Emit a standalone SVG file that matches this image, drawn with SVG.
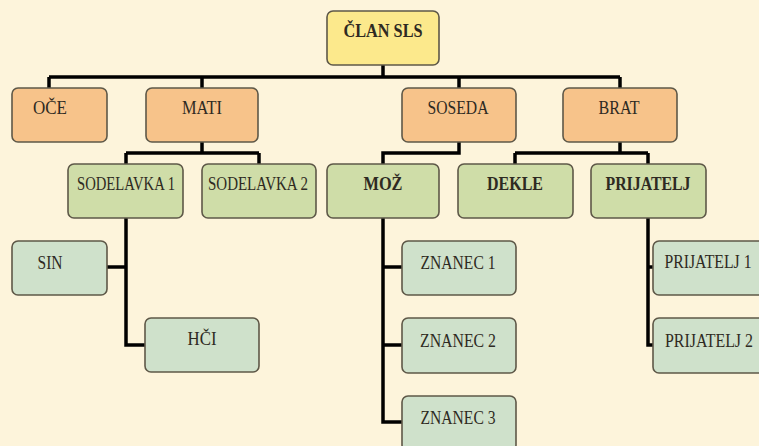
<svg xmlns="http://www.w3.org/2000/svg" width="759" height="446" viewBox="0 0 759 446">
<style>
.b{stroke:#5e5848;stroke-width:1.6}
.r{fill:#fce98c}
.o{fill:#f7c38a}
.g{fill:#cfdda8}
.l{fill:#cfe1cb}
.t{font-family:"Liberation Serif","Times New Roman",serif;font-size:18px;fill:#2e2a22;text-anchor:middle}
.bd{font-weight:bold}
.c{fill:none;stroke:#000;stroke-width:3.5;stroke-linejoin:miter}
</style>
<rect width="759" height="446" fill="#fdf4db"/>
<g id="connectors">
<path class="c" d="M383 65V77M49 77H620M49 77V88M202 77V88M459 77V88M620 77V88"/>
<path class="c" d="M202 142V153M126 153H259M126 153V164M259 153V164"/>
<path class="c" d="M459 142V153H383V164"/>
<path class="c" d="M620 142V153M515 153H648M515 153V164M648 153V164"/>
<path class="c" d="M126 218V345H145M107 267H126"/>
<path class="c" d="M383 218V422H402M383 267H402M383 345H402"/>
<path class="c" d="M648 218V345H653M648 267H653"/>
</g>
<g id="n-clan"><rect class="b r" x="327" y="11" width="112" height="54" rx="6"/><text class="t bd" x="383" y="37" textLength="79" lengthAdjust="spacingAndGlyphs">ČLAN SLS</text></g>
<g id="n-oce"><rect class="b o" x="12" y="88" width="95" height="54" rx="6"/><text class="t" x="50" y="114" textLength="34" lengthAdjust="spacingAndGlyphs">OČE</text></g>
<g id="n-mati"><rect class="b o" x="146" y="88" width="112" height="54" rx="6"/><text class="t" x="202" y="114" textLength="40" lengthAdjust="spacingAndGlyphs">MATI</text></g>
<g id="n-soseda"><rect class="b o" x="402" y="88" width="114" height="54" rx="6"/><text class="t" x="458" y="114" textLength="61" lengthAdjust="spacingAndGlyphs">SOSEDA</text></g>
<g id="n-brat"><rect class="b o" x="563" y="88" width="114" height="54" rx="6"/><text class="t" x="619" y="114" textLength="41" lengthAdjust="spacingAndGlyphs">BRAT</text></g>
<g id="n-sodelavka1"><rect class="b g" x="68" y="164" width="115" height="54" rx="6"/><text class="t" x="126" y="190" textLength="98" lengthAdjust="spacingAndGlyphs">SODELAVKA 1</text></g>
<g id="n-sodelavka2"><rect class="b g" x="202" y="164" width="114" height="54" rx="6"/><text class="t" x="258" y="190" textLength="100" lengthAdjust="spacingAndGlyphs">SODELAVKA 2</text></g>
<g id="n-moz"><rect class="b g" x="327" y="164" width="112" height="54" rx="6"/><text class="t bd" x="383" y="190" textLength="39" lengthAdjust="spacingAndGlyphs">MOŽ</text></g>
<g id="n-dekle"><rect class="b g" x="458" y="164" width="115" height="54" rx="6"/><text class="t bd" x="515" y="190" textLength="56" lengthAdjust="spacingAndGlyphs">DEKLE</text></g>
<g id="n-prijatelj"><rect class="b g" x="591" y="164" width="115" height="54" rx="6"/><text class="t bd" x="648" y="190" textLength="85" lengthAdjust="spacingAndGlyphs">PRIJATELJ</text></g>
<g id="n-sin"><rect class="b l" x="12" y="241" width="95" height="54" rx="6"/><text class="t" x="50" y="269" textLength="25" lengthAdjust="spacingAndGlyphs">SIN</text></g>
<g id="n-hci"><rect class="b l" x="145" y="318" width="114" height="54" rx="6"/><text class="t" x="202" y="345" textLength="29" lengthAdjust="spacingAndGlyphs">HČI</text></g>
<g id="n-znanec1"><rect class="b l" x="402" y="241" width="114" height="54" rx="6"/><text class="t" x="458" y="269" textLength="75" lengthAdjust="spacingAndGlyphs">ZNANEC 1</text></g>
<g id="n-znanec2"><rect class="b l" x="402" y="318" width="114" height="55" rx="6"/><text class="t" x="458" y="347" textLength="76" lengthAdjust="spacingAndGlyphs">ZNANEC 2</text></g>
<g id="n-znanec3"><rect class="b l" x="402" y="396" width="114" height="55" rx="6"/><text class="t" x="458" y="424" textLength="75" lengthAdjust="spacingAndGlyphs">ZNANEC 3</text></g>
<g id="n-prijatelj1"><rect class="b l" x="653" y="241" width="114" height="54" rx="6"/><text class="t" x="708" y="268" textLength="87" lengthAdjust="spacingAndGlyphs">PRIJATELJ 1</text></g>
<g id="n-prijatelj2"><rect class="b l" x="653" y="318" width="114" height="55" rx="6"/><text class="t" x="709" y="347" textLength="88" lengthAdjust="spacingAndGlyphs">PRIJATELJ 2</text></g>
</svg>
